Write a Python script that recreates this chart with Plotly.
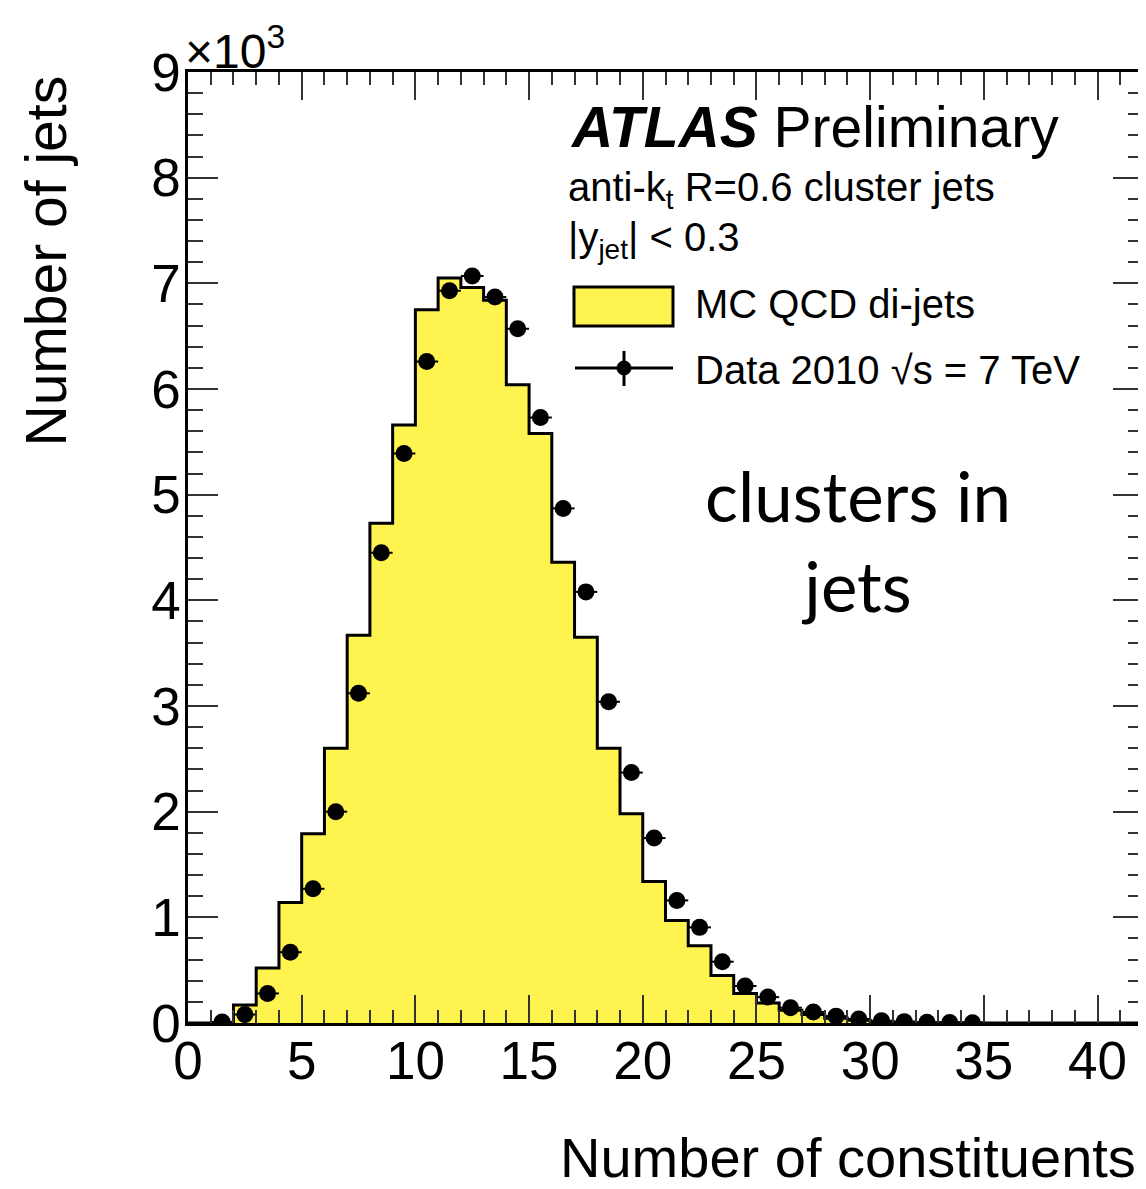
import plotly.graph_objects as go

# ---- data (values in units of 10^3 jets) ----
mc_bin_low_edges = [0, 1, 2, 3, 4, 5, 6, 7, 8, 9, 10, 11, 12, 13, 14, 15, 16, 17, 18, 19, 20,
                    21, 22, 23, 24, 25, 26, 27, 28, 29, 30, 31, 32, 33, 34, 35, 36, 37, 38, 39, 40, 41]
mc_upper_edge = 42
mc_values = [0, 0, 0.17, 0.52, 1.14, 1.79, 2.60, 3.67, 4.73, 5.66, 6.75, 7.05, 6.96, 6.84, 6.04,
             5.58, 4.36, 3.65, 2.60, 1.98, 1.34, 0.97, 0.73, 0.45, 0.28, 0.19, 0.12, 0.08, 0.045,
             0.025, 0.015, 0.008, 0.005, 0.003, 0.002, 0, 0, 0, 0, 0, 0, 0]

data_x = [1.5, 2.5, 3.5, 4.5, 5.5, 6.5, 7.5, 8.5, 9.5, 10.5, 11.5, 12.5, 13.5, 14.5, 15.5, 16.5,
          17.5, 18.5, 19.5, 20.5, 21.5, 22.5, 23.5, 24.5, 25.5, 26.5, 27.5, 28.5, 29.5, 30.5,
          31.5, 32.5, 33.5, 34.5]
data_y = [0.01, 0.08, 0.28, 0.67, 1.27, 2.00, 3.12, 4.45, 5.39, 6.26, 6.93, 7.07, 6.87, 6.57,
          5.73, 4.87, 4.08, 3.04, 2.37, 1.75, 1.16, 0.905, 0.58, 0.35, 0.245, 0.145, 0.105,
          0.065, 0.038, 0.022, 0.013, 0.008, 0.005, 0.003]

x_tickvals = [0, 5, 10, 15, 20, 25, 30, 35, 40]
y_tickvals = [0, 1, 2, 3, 4, 5, 6, 7, 8, 9]

YELLOW = "#FFF350"
FONT = "Liberation Sans, Arial, Helvetica, sans-serif"

# page body has an 8px default margin -> shrink figure and shift layout
OFF = 8
W, H = 1146 - OFF, 1189 - OFF
L, R, T, B = 188 - OFF, 3, 72 - OFF, 166
PW, PH = W - L - R, H - T - B


def px(page_x):
    return (page_x - OFF - L) / PW


def py(page_y):
    return (H - B - (page_y - OFF)) / PH


fig = go.Figure()

# MC histogram as filled step
fig.add_trace(go.Scatter(
    x=mc_bin_low_edges + [mc_upper_edge],
    y=mc_values + [mc_values[-1]],
    mode="lines",
    line=dict(shape="hv", color="black", width=3),
    fill="tozeroy",
    fillcolor=YELLOW,
    hoverinfo="skip",
    showlegend=False,
))

# Data points
fig.add_trace(go.Scatter(
    x=data_x,
    y=data_y,
    mode="markers",
    marker=dict(symbol="circle", size=17, color="black"),
    error_x=dict(type="constant", value=0.5, color="black", thickness=2, width=0),
    showlegend=False,
))

axis_common = dict(
    showline=True, linecolor="black", linewidth=2.5, mirror="ticks",
    ticks="inside", tickcolor="#333333", tickwidth=2,
    showgrid=False, zeroline=False, automargin=False,
    tickfont=dict(family=FONT, size=53, color="black"),
)

fig.update_xaxes(
    range=[0, 42], tickvals=x_tickvals, ticklen=28, ticklabelstandoff=-10,
    minor=dict(dtick=1, ticks="inside", ticklen=13, tickwidth=2, tickcolor="#333333", showgrid=False),
    **axis_common,
)
fig.update_yaxes(
    range=[0, 9], tickvals=y_tickvals, ticklen=30, ticklabelstandoff=-6,
    minor=dict(dtick=0.2, ticks="inside", ticklen=15, tickwidth=2, tickcolor="#333333", showgrid=False),
    **axis_common,
)

annotations = [
    dict(text="×10<sup>3</sup>", x=px(183), y=py(48), xanchor="left", yanchor="middle",
         font=dict(family=FONT, size=48, color="black")),
    dict(text="Number of jets", x=px(45), y=py(74), xanchor="center", yanchor="top", textangle=-90,
         font=dict(family=FONT, size=57, color="black")),
    dict(text="Number of constituents", x=px(1138), y=py(1157), xanchor="right", yanchor="middle",
         font=dict(family=FONT, size=56, color="black")),
    dict(text="<b><i>ATLAS</i></b> Preliminary", x=px(568), y=py(127), xanchor="left", yanchor="middle",
         font=dict(family=FONT, size=57, color="black")),
    dict(text="anti-k<sub>t</sub> R=0.6 cluster jets", x=px(566), y=py(190), xanchor="left", yanchor="middle",
         font=dict(family=FONT, size=40, color="black")),
    dict(text="|y<sub>jet</sub>| < 0.3", x=px(566), y=py(240), xanchor="left", yanchor="middle",
         font=dict(family=FONT, size=40, color="black")),
    dict(text="MC QCD di-jets", x=px(693), y=py(304), xanchor="left", yanchor="middle",
         font=dict(family=FONT, size=40, color="black")),
    dict(text="Data 2010 √s = 7 TeV", x=px(693), y=py(370), xanchor="left", yanchor="middle",
         font=dict(family=FONT, size=40, color="black")),
    dict(text="clusters in<br>jets", x=px(858), y=py(540), xanchor="center", yanchor="middle",
         font=dict(family="Lato, sans-serif", size=69, color="black")),
]
for a in annotations:
    a.update(xref="paper", yref="paper", showarrow=False)

shapes = [
    dict(type="rect", xref="paper", yref="paper", x0=px(574), x1=px(673), y0=py(326), y1=py(287),
         fillcolor=YELLOW, line=dict(color="black", width=3)),
    dict(type="line", xref="paper", yref="paper", x0=px(575), x1=px(673), y0=py(368), y1=py(368),
         line=dict(color="black", width=3)),
    dict(type="line", xref="paper", yref="paper", x0=px(624), x1=px(624), y0=py(351), y1=py(386),
         line=dict(color="black", width=3)),
    dict(type="circle", xref="paper", yref="paper", x0=px(617), x1=px(631), y0=py(375), y1=py(361),
         fillcolor="black", line=dict(color="black", width=1)),
]

fig.update_layout(
    width=W, height=H,
    margin=dict(l=L, r=R, t=T, b=B, autoexpand=False),
    paper_bgcolor="white", plot_bgcolor="white",
    showlegend=False,
    annotations=annotations,
    shapes=shapes,
)

fig.write_html("out.html")
